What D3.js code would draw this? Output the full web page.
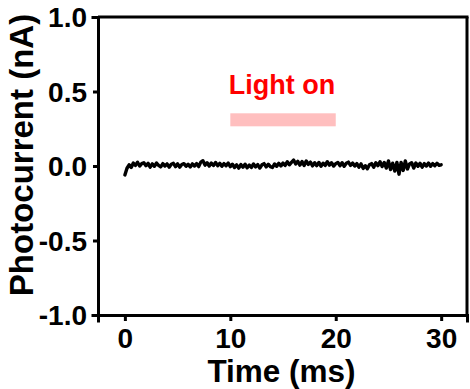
<!DOCTYPE html>
<html><head><meta charset="utf-8">
<script src="https://cdn.jsdelivr.net/npm/d3@7/dist/d3.min.js"></script>
<style>
html,body{margin:0;padding:0;background:#fff;}
svg text{font-family:"Liberation Sans",Arial,sans-serif;font-weight:bold;}
</style></head>
<body><svg id="c" width="470" height="389"></svg>
<script>
const xTicks = [0, 10, 20, 30];
const yTicks = [-1.0, -0.5, 0.0, 0.5, 1.0];
const xLabel = "Time (ms)";
const yLabel = "Photocurrent (nA)";
const stimLabel = "Light on";
const stimStart = 10, stimEnd = 20, stimLevel = 0.31;
const timeStep = 0.2;
const current = [
 -0.06, -0.015, 0.008, -0.01, 0.02, 0.004, 0.025, 0.0, 0.016, 0.022,
 0.002, 0.018, -0.008, 0.014, -0.002, 0.02, 0.004, -0.006, 0.016, 0.0,
 0.014, -0.008, 0.012, 0.018, -0.004, 0.014, -0.008, 0.01, 0.016, -0.002,
 0.012, -0.006, 0.014, 0.0, 0.016, -0.004, 0.026, 0.035, 0.006, 0.022,
 0.0, 0.02, 0.004, 0.024, 0.002, 0.018, -0.002, 0.016, 0.002, 0.019,
 -0.004, 0.012, -0.01, 0.008, -0.014, 0.01, -0.008, 0.012, -0.012, 0.006,
 -0.01, 0.014, -0.006, 0.01, -0.014, 0.008, 0.016, -0.006, 0.012, -0.004,
 -0.01, 0.014, -0.002, 0.018, 0.0, 0.02, 0.004, 0.028, 0.008, 0.024,
 0.04, 0.014, 0.032, 0.006, 0.03, 0.004, 0.034, 0.011, 0.026, 0.001,
 0.022, 0.002, 0.024, -0.002, 0.019, 0.004, 0.029, 0.006, 0.022, 0.0,
 0.016, 0.024, 0.002, 0.022, -0.002, 0.018, 0.026, 0.004, 0.02, 0.0,
 0.016, -0.008, 0.014, -0.016, 0.002, -0.019, 0.008, 0.016, -0.008, 0.022,
 0.002, 0.029, -0.004, 0.024, -0.014, 0.034, -0.024, 0.019, -0.034, 0.024,
 -0.055, 0.024, -0.03, 0.034, -0.02, 0.014, 0.022, -0.014, 0.02, -0.002,
 0.018, -0.008, 0.016, 0.0, 0.02, -0.002, 0.016, 0.002, 0.018, 0.004,
 0.008
];

const W = 470, H = 389;
const m = {left: 98, right: 3, top: 17, bottom: 74};
const svg = d3.select("#c");
const x = d3.scaleLinear().domain([-2.55, 32.45]).range([m.left, W - m.right]);
const y = d3.scaleLinear().domain([-1, 1]).range([H - m.bottom, m.top]);

// stimulus bar
svg.append("rect")
  .attr("x", x(stimStart)).attr("width", x(stimEnd) - x(stimStart))
  .attr("y", y(stimLevel) - 6.5).attr("height", 13)
  .attr("fill", "#ffbfbf");
svg.append("text")
  .attr("x", x((stimStart + stimEnd) / 2) - 1).attr("y", y(0.485))
  .attr("text-anchor", "middle").attr("fill", "#ff0000")
  .style("font-size", "27px").text(stimLabel);

// trace
const line = d3.line().x((d, i) => x(i * timeStep)).y(d => y(d));
svg.append("path").datum(current)
  .attr("d", line).attr("fill", "none").attr("stroke", "#000")
  .attr("stroke-width", 3.4).attr("stroke-linejoin", "round").attr("stroke-linecap", "round");

// box top/right
svg.append("line").attr("x1", m.left).attr("x2", W - m.right + 1.5)
  .attr("y1", m.top).attr("y2", m.top).attr("stroke", "#000").attr("stroke-width", 3);
svg.append("line").attr("x1", W - m.right).attr("x2", W - m.right)
  .attr("y1", m.top).attr("y2", H - m.bottom).attr("stroke", "#000").attr("stroke-width", 3);

// axes
const xAxis = svg.append("g").attr("transform", `translate(0,${H - m.bottom})`)
  .call(d3.axisBottom(x).tickValues(xTicks).tickFormat(d3.format("d")).tickSizeOuter(0).tickSize(6).tickPadding(7));
const yAxis = svg.append("g").attr("transform", `translate(${m.left},0)`)
  .call(d3.axisLeft(y).tickValues(yTicks).tickFormat(d3.format(".1f")).tickSizeOuter(0).tickSize(5).tickPadding(6));
[xAxis, yAxis].forEach(g => {
  g.select(".domain").attr("stroke", "#000").attr("stroke-width", 3).attr("stroke-linecap", "square");
  g.selectAll(".tick line").attr("stroke", "#000").attr("stroke-width", 3);
  g.selectAll(".tick text").attr("fill", "#000").style("font-family", "'Liberation Sans',Arial,sans-serif").style("font-weight", "bold");
});
xAxis.selectAll(".tick text").style("font-size", "28px");
yAxis.selectAll(".tick text").style("font-size", "28px").attr("dy", "0.35em");
yAxis.selectAll(".tick text").text(d => d3.format(".1f")(d).replace("−", "-"));

// titles
svg.append("text").attr("x", (m.left + W - m.right) / 2 - 1).attr("y", 382)
  .attr("text-anchor", "middle").style("font-size", "31.5px").text(xLabel);
svg.append("text").attr("transform", "translate(33,155) rotate(-90)")
  .attr("text-anchor", "middle").style("font-size", "33px").text(yLabel);
</script></body></html>
